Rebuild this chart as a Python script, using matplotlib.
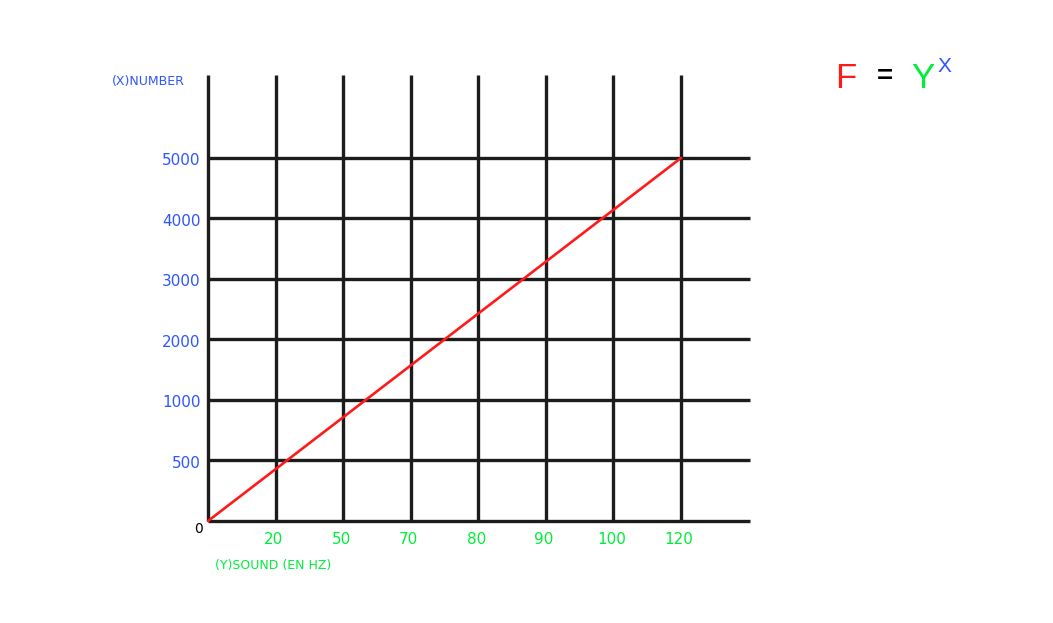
import matplotlib
matplotlib.use("Agg")
import matplotlib.pyplot as plt

plt.rcParams['font.family'] = ['DejaVu Sans']

# valores del grafico (posiciones por indice, etiquetas no lineales)
x_labels = ["20", "50", "70", "80", "90", "100", "120"]
y_labels = ["500", "1000", "2000", "3000", "4000", "5000"]
line_x = [0, 7]
line_y = [0, 6]

BLUE = "#2f55ff"
GREEN = "#00ee3a"
GRID = "#1c1c1c"

fig = plt.figure(figsize=(10.53, 6.23), dpi=100)
ax = fig.add_axes([208 / 1053, 102 / 623, 542 / 1053, 446 / 623])

nx = len(x_labels)
ny = len(y_labels)
ytop = 7.37
xright = 8.02

# rejilla dibujada a mano
ax.vlines(range(nx + 1), 0, ytop, color=GRID, lw=2.4, zorder=1, clip_on=False)
ax.hlines(range(ny + 1), 0, xright, color=GRID, lw=2.4, zorder=1, clip_on=False)

ax.plot(line_x, line_y, color="#ff1a1a", lw=1.9, zorder=2, solid_capstyle="round", clip_on=False)

ax.set_xlim(0, xright)
ax.set_ylim(0, ytop)
ax.axis("off")

# etiquetas
for i, lab in enumerate(x_labels, start=1):
    ax.text(i - 0.03, -0.31, lab, color=GREEN, fontsize=11, ha="center", va="center")
for j, lab in enumerate(y_labels, start=1):
    ax.text(-0.11, j - 0.05, lab, color=BLUE, fontsize=11, ha="right", va="center")
ax.text(-0.07, -0.14, "0", color="black", fontsize=10, ha="right", va="center")

fig.text(112 / 1053, 1 - 82 / 623, "(X)NUMBER", color=BLUE, fontsize=9, va="center")
fig.text(215 / 1053, 1 - 565 / 623, "(Y)SOUND (EN HZ)", color=GREEN, fontsize=9, va="center")

# formula
fig.text(846 / 1053, 1 - 78 / 623, "F", color="#ff1a1a", fontsize=25, ha="center", va="center",
         family="Liberation Sans")
fig.text(885 / 1053, 1 - 77 / 623, "=", color="black", fontsize=20, ha="center", va="center",
         fontweight="bold", family="Liberation Sans")
fig.text(923 / 1053, 1 - 78 / 623, "Y", color=GREEN, fontsize=25, ha="center", va="center",
         family="Liberation Sans")
fig.text(944 / 1053, 1 - 66 / 623, "X", color=BLUE, fontsize=15, ha="center", va="center",
         family="Liberation Sans")

fig.savefig("out.png", dpi=100)
